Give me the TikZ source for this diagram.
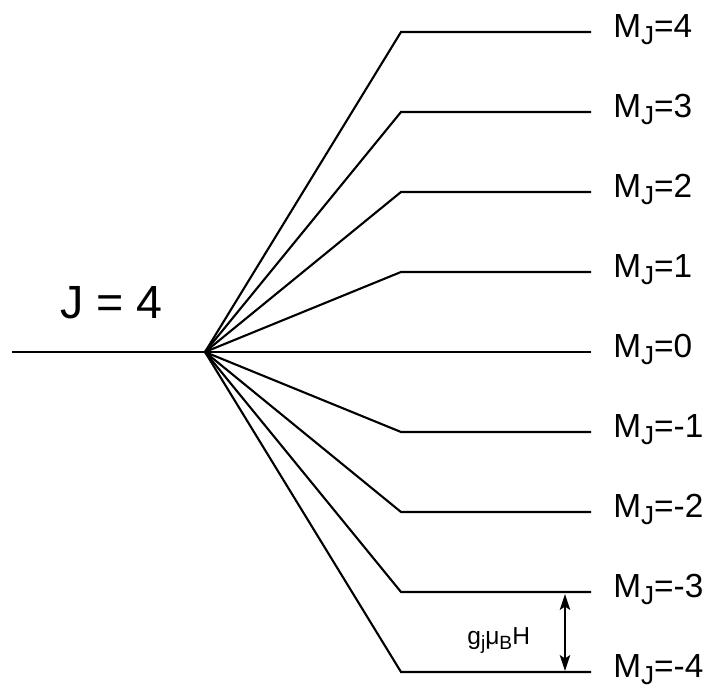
\documentclass[tikz,border=0pt]{standalone}
\usepackage{fontspec}
\setmainfont{Liberation Sans}
\usepackage{graphicx}
\usepackage{tikz}
\usetikzlibrary{arrows.meta,positioning}

% lowered subscript, as in the drawing
\newcommand{\lowsub}[1]{\raisebox{-0.2em}{\scalebox{0.78}{#1}}}

\tikzset{
  level/.style={line width=1.2pt},
  mlabel/.style={anchor=base west, inner sep=0pt, font=\fontsize{19}{22}\selectfont},
  gaptip/.tip={Stealth[length=0.32cm,width=0.21cm,inset=0.07cm]},
}

\begin{document}
\begin{tikzpicture}[x=0.02cm, y=-0.02cm]
    \useasboundingbox (0,0) rectangle (708,688);

    % Zero-field level
    \coordinate (left) at (12,352);
    \coordinate (split) at (205,352);
    \draw[level] (left) -- (split);
    \node[anchor=base west, inner sep=0pt, font=\fontsize{26.5}{32}\selectfont] (jlabel) at (60,319) {J = 4};

    % Zeeman sublevels
    \foreach \m in {4,...,-4} {
        \coordinate (a\m) at (401,{352-80*\m});
        \coordinate (b\m) at (591,{352-80*\m});
        \draw[level] (split) -- (a\m) -- (b\m);
        \node[mlabel, xshift=0.44cm, yshift=-0.12cm] (m\m) at (b\m) {M\lowsub{J}=\m};
    }

    % Level spacing
    \coordinate (gtop) at (565,594);
    \coordinate (gbot) at (565,671);
    \draw[line width=0.7pt, gaptip-gaptip] (gtop) -- (gbot);
    \node[anchor=base west, inner sep=0pt, font=\fontsize{14}{16}\selectfont] (glabel) at (467,645) {g\lowsub{j}μ\lowsub{B}H};
\end{tikzpicture}
\end{document}
